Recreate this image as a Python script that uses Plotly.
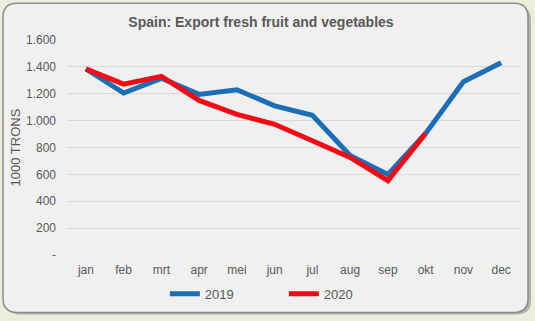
import plotly.graph_objects as go

months = ["jan", "feb", "mrt", "apr", "mei", "jun", "jul", "aug", "sep", "okt", "nov", "dec"]
export_2019 = [1385, 1205, 1315, 1195, 1230, 1110, 1040, 740, 600, 905, 1290, 1430]
months_2020 = ["jan", "feb", "mrt", "apr", "mei", "jun", "jul", "aug", "sep", "okt"]
export_2020 = [1385, 1272, 1330, 1150, 1047, 973, 850, 726, 553, 905]
y_tickvals = [0, 200, 400, 600, 800, 1000, 1200, 1400, 1600]
y_ticktext = ["-", "200", "400", "600", "800", "1.000", "1.200", "1.400", "1.600"]

FONT = "Arial, Liberation Sans, sans-serif"
GRAY = "#595959"
W, H = 535, 321

fig = go.Figure()
fig.add_trace(go.Scatter(x=months, y=export_2019, name="2019", mode="lines",
                         line=dict(color="#1c6fb6", width=5)))
fig.add_trace(go.Scatter(x=months_2020, y=export_2020, name="2020", mode="lines",
                         line=dict(color="#f20a14", width=5)))

pl, pr, pt, pb = 67, 520, 40, 257
def fx(x):
    return (x - pl) / (pr - pl)
def fy(y):
    return (pb - y) / (pb - pt)

fig.update_layout(
    width=W, height=H,
    margin=dict(l=67, r=15, t=40, b=64),
    paper_bgcolor="#e9efdc",
    plot_bgcolor="#ffffff",
    font=dict(family=FONT, color=GRAY, size=12),
    title=dict(text="<b>Spain: Export fresh fruit and vegetables</b>",
               font=dict(size=14, color=GRAY, family=FONT),
               x=fx(261), xanchor="center", y=0.93, yanchor="middle", xref="paper", yref="container"),
    showlegend=True,
    legend=dict(orientation="h", x=0.216, xanchor="left", y=-0.18, yanchor="middle",
                font=dict(size=13, color=GRAY, family=FONT),
                entrywidth=74, entrywidthmode="pixels",
                bgcolor="rgba(0,0,0,0)"),
    xaxis=dict(showgrid=False, showline=False, zeroline=False, ticks="",
               range=[-0.5, 11.5],
               ticklabelstandoff=6, tickfont=dict(size=12, color=GRAY),
               categoryorder="array", categoryarray=months),
    yaxis=dict(range=[0, 1600], tickvals=y_tickvals, ticktext=y_ticktext,
               showgrid=True, gridcolor="#d9d9d9", gridwidth=1, zeroline=False,
               showline=False, ticks="", ticklabelstandoff=10,
               tickfont=dict(size=12, color=GRAY)),
)

fig.add_annotation(text="1000 TRONS", xref="paper", yref="paper", x=fx(15), y=0.5,
                   xanchor="center", yanchor="middle", textangle=-90, showarrow=False,
                   font=dict(size=13, color=GRAY, family=FONT))

def rpath(x0, y0, x1, y1, r):
    X0, X1 = fx(x0), fx(x1)
    Y0, Y1 = fy(y0), fy(y1)
    rx = r / (pr - pl)
    ry = r / (pb - pt)
    return (f"M{X0+rx},{Y0} L{X1-rx},{Y0} Q{X1},{Y0} {X1},{Y0-ry} L{X1},{Y1+ry} "
            f"Q{X1},{Y1} {X1-rx},{Y1} L{X0+rx},{Y1} Q{X0},{Y1} {X0},{Y1+ry} "
            f"L{X0},{Y0-ry} Q{X0},{Y0} {X0+rx},{Y0} Z")

fig.add_shape(type="path", xref="paper", yref="paper", layer="below",
              path=rpath(6, 6, 531, 317, 14), fillcolor="#8a8a8a", line=dict(width=0), opacity=0.6)
fig.add_shape(type="path", xref="paper", yref="paper", layer="below",
              path=rpath(3, 3, 528, 315, 14), fillcolor="#f0f0f0",
              line=dict(color="#8c8c8c", width=1.5))

fig.write_html("out.html")
